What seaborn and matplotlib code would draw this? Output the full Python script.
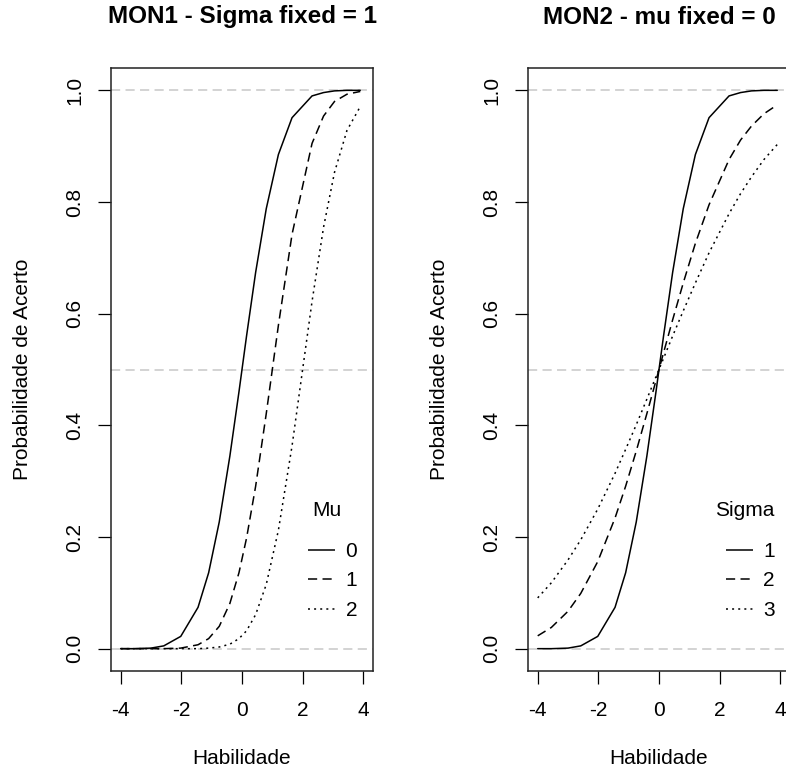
import numpy as np
import pandas as pd
import matplotlib
matplotlib.use("Agg")
import matplotlib.pyplot as plt
from matplotlib.lines import Line2D
import seaborn as sns

# ---- data ----
habilidade = [-4.0, -3.55, -3.0, -2.58, -2.02, -1.45, -1.1, -0.75, -0.4, -0.1,
              0.15, 0.45, 0.8, 1.2, 1.65, 2.31, 2.69, 3.05, 3.46, 3.9]

# MON1 (sigma fixed = 1), mu = 0, 1, 2
mu_levels = ["0", "1", "2"]
p_mu0 = [0.000, 0.000, 0.001, 0.005, 0.022, 0.074, 0.136, 0.227, 0.345, 0.460,
         0.560, 0.674, 0.788, 0.885, 0.951, 0.990, 0.996, 0.999, 1.000, 1.000]
p_mu1 = [0.000, 0.000, 0.000, 0.000, 0.001, 0.007, 0.018, 0.040, 0.081, 0.136,
         0.198, 0.291, 0.421, 0.579, 0.742, 0.905, 0.954, 0.980, 0.993, 0.998]
p_mu2 = [0.000, 0.000, 0.000, 0.000, 0.000, 0.000, 0.001, 0.003, 0.008, 0.018,
         0.032, 0.061, 0.115, 0.212, 0.363, 0.622, 0.755, 0.853, 0.928, 0.971]

# MON2 (mu fixed = 0), sigma = 1, 2, 3
sigma_levels = ["1", "2", "3"]
p_s1 = [0.000, 0.000, 0.001, 0.005, 0.022, 0.074, 0.136, 0.227, 0.345, 0.460,
        0.560, 0.674, 0.788, 0.885, 0.951, 0.990, 0.996, 0.999, 1.000, 1.000]
p_s2 = [0.023, 0.038, 0.067, 0.099, 0.156, 0.234, 0.291, 0.354, 0.421, 0.480,
        0.530, 0.589, 0.655, 0.726, 0.795, 0.876, 0.911, 0.936, 0.958, 0.974]
p_s3 = [0.091, 0.118, 0.159, 0.195, 0.250, 0.314, 0.357, 0.401, 0.447, 0.487,
        0.520, 0.560, 0.605, 0.655, 0.709, 0.779, 0.815, 0.845, 0.876, 0.903]

ref_lines = [0.0, 0.5, 1.0]
x_ticks = [-4, -2, 0, 2, 4]
y_ticks = [0.0, 0.2, 0.4, 0.6, 0.8, 1.0]
y_tick_labels = ["0.0", "0.2", "0.4", "0.6", "0.8", "1.0"]

# ---- styling ----
sns.set_style("ticks")
plt.rcParams["font.family"] = ["Liberation Sans", "DejaVu Sans"]
plt.rcParams["axes.linewidth"] = 1.0
plt.rcParams["text.color"] = "black"
plt.rcParams["axes.labelcolor"] = "black"

styles = [(0, ()), (0, (6, 3.5)), (0, (1.3, 2.7))]

W, H = 786, 771
fig = plt.figure(figsize=(W / 100, H / 100), dpi=100)

def px_axes(left, top, right, bottom):
    return [left / W, 1 - bottom / H, (right - left) / W, (bottom - top) / H]

ax1 = fig.add_axes(px_axes(111, 68, 373, 671))
ax2 = fig.add_axes(px_axes(528, 68, 790, 671))

def draw(ax, series, levels, title, legend_title, leg_x, title_x):
    frames = []
    for lev, vals in zip(levels, series):
        frames.append(pd.DataFrame({"Habilidade": habilidade, "P": vals, "g": lev}))
    df = pd.concat(frames, ignore_index=True)
    for yv in ref_lines:
        ax.axhline(yv, color="#c8c8c8", lw=1.1, ls=(0, (6, 3.5)), zorder=1)
    sns.lineplot(data=df, x="Habilidade", y="P", style="g",
                 dashes={lev: (st[1] if st[1] else "") for lev, st in zip(levels, styles)},
                 color="black", lw=1.1, estimator=None, sort=False,
                 legend=False, ax=ax, zorder=3)
    ax.set_xlim(-4.32, 4.32)
    ax.set_ylim(-0.04, 1.04)
    ax.set_xticks(x_ticks)
    ax.set_xticklabels([str(t) for t in x_ticks])
    ax.set_yticks(y_ticks)
    ax.set_yticklabels(y_tick_labels, rotation=90, va="center")
    ax.tick_params(axis="both", direction="out", length=9.5, width=0.9,
                   labelsize=15, colors="black")
    ax.tick_params(axis="x", pad=12)
    ax.tick_params(axis="y", pad=10)
    for s in ax.spines.values():
        s.set_visible(True)
        s.set_linewidth(1.1)
        s.set_color("#222222")
    ax.set_xlabel("Habilidade", fontsize=15)
    ax.xaxis.label.set_va("center")
    ax.xaxis.set_label_coords(0.5, (671 - 758) / 603)
    ax.set_ylabel("Probabilidade de Acerto", fontsize=15)
    ax.yaxis.label.set_va("center")
    ax.yaxis.set_label_coords(-0.337, 0.5)
    ax.set_title(title, fontsize=17.5, fontweight="bold", pad=0, y=(671 - 17) / 603,
                 va="center")
    handles = [Line2D([0], [0], color="black", lw=1.1, ls=st) for st in styles]
    ax.legend(handles, levels, loc="upper left",
              bbox_to_anchor=(leg_x, (671 - 542) / 603), frameon=False,
              handlelength=1.3, handletextpad=0.5, labelspacing=0.5,
              borderpad=0, borderaxespad=0, fontsize=15)
    ax.text(title_x, (671 - 510) / 603, legend_title, transform=ax.transAxes,
            ha="center", va="center", fontsize=15)

draw(ax1, [p_mu0, p_mu1, p_mu2], mu_levels, "MON1 - Sigma fixed = 1", "Mu",
     0.752, (327 - 111) / 262)
draw(ax2, [p_s1, p_s2, p_s3], sigma_levels, "MON2 - mu fixed = 0", "Sigma",
     0.755, (745 - 528) / 262)

fig.savefig("out.png", dpi=100)
